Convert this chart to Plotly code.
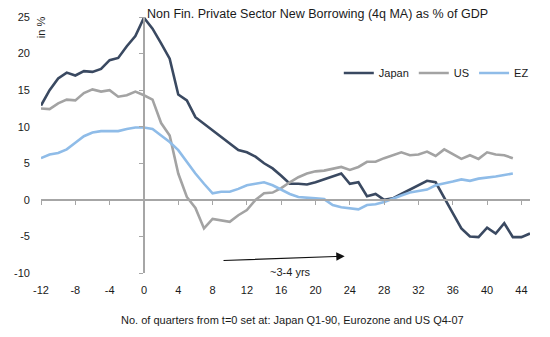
import plotly.graph_objects as go

# Quarters relative to t=0 (Japan Q1-90, Eurozone and US Q4-07)
quarters_japan = list(range(-12, 46))
quarters_us = list(range(-12, 44))
quarters_ez = list(range(-12, 44))

japan = [12.9, 15.0, 16.6, 17.4, 17.0, 17.6, 17.5, 17.9, 19.1, 19.4, 21.0, 22.4,
         24.9, 23.4, 21.4, 19.3, 14.4, 13.6, 11.3, 10.4, 9.4, 8.5, 7.6, 6.8,
         6.5, 5.9, 5.0, 4.3, 3.3, 2.2, 2.2, 2.1, 2.4, 2.8, 3.1, 3.6,
         2.2, 2.4, 0.5, 0.8, 0.0, 0.2, 0.8, 1.4, 2.0, 2.6, 2.4, 0.4,
         -1.8, -3.9, -5.0, -5.1, -3.8, -4.6, -3.2, -5.1, -5.1, -4.6]

us = [12.5, 12.4, 13.2, 13.7, 13.6, 14.6, 15.1, 14.8, 15.0, 14.1, 14.3, 14.8,
      14.3, 13.7, 10.5, 8.8, 3.6, 0.4, -1.1, -3.9, -2.6, -2.8, -3.0, -2.1,
      -1.4, 0.0, 0.9, 1.0, 1.6, 2.4, 3.1, 3.6, 3.9, 4.0, 4.3, 4.5,
      4.1, 4.5, 5.2, 5.2, 5.7, 6.1, 6.5, 6.1, 6.2, 6.6, 6.0, 6.9,
      6.2, 5.6, 6.1, 5.6, 6.5, 6.2, 6.1, 5.7]

ez = [5.7, 6.2, 6.4, 6.9, 7.8, 8.7, 9.2, 9.4, 9.4, 9.4, 9.7, 9.9,
      9.9, 9.7, 8.8, 7.9, 6.8, 5.2, 3.6, 2.2, 0.9, 1.1, 1.1, 1.5,
      2.0, 2.2, 2.4, 2.0, 1.4, 0.8, 0.4, 0.35, 0.2, 0.1, -0.7, -1.0,
      -1.2, -1.3, -0.7, -0.6, -0.3, 0.2, 0.6, 1.0, 1.2, 1.4, 2.0, 2.2,
      2.5, 2.8, 2.6, 2.9, 3.0, 3.2, 3.4, 3.6]

x_ticks = list(range(-12, 45, 4))
x_tick_labels = [str(v) for v in x_ticks]
y_ticks = list(range(-10, 26, 5))
y_tick_labels = [str(v) for v in y_ticks]

X_RANGE = [-12, 45]
Y_RANGE = [-10, 25]

AXIS_GREY = "#a6a6a6"
FONT = "Liberation Sans, Arial, sans-serif"
TEXT = "#1a1a1a"

fig = go.Figure()
fig.add_trace(go.Scatter(x=quarters_japan, y=japan, name="Japan", mode="lines",
                         line=dict(color="#3a4961", width=2.6)))
fig.add_trace(go.Scatter(x=quarters_us, y=us, name="US", mode="lines",
                         line=dict(color="#a3a3a3", width=2.6)))
fig.add_trace(go.Scatter(x=quarters_ez, y=ez, name="EZ", mode="lines",
                         line=dict(color="#8fbce8", width=2.6)))

# axes cross at the origin; labels pushed out to the frame edges
fig.update_layout(
    width=550, height=337,
    margin=dict(l=41, r=20, t=17, b=64),
    paper_bgcolor="white", plot_bgcolor="white",
    font=dict(family=FONT, size=11, color=TEXT),
    showlegend=True,
    legend=dict(orientation="h", x=0.609, y=0.781, xanchor="left", yanchor="middle",
                bgcolor="rgba(0,0,0,0)", font=dict(size=11, color=TEXT),
                itemwidth=30, tracegroupgap=0),
    xaxis=dict(range=X_RANGE, anchor="free",
               position=(0 - Y_RANGE[0]) / (Y_RANGE[1] - Y_RANGE[0]),
               showline=True, linecolor=AXIS_GREY, linewidth=1.5,
               ticks="outside", ticklen=4, tickcolor=AXIS_GREY, tickwidth=1,
               tickvals=x_ticks, ticktext=x_tick_labels, ticklabelstandoff=76,
               showgrid=False, zeroline=False),
    yaxis=dict(range=Y_RANGE, anchor="free",
               position=(0 - X_RANGE[0]) / (X_RANGE[1] - X_RANGE[0]),
               showline=True, linecolor=AXIS_GREY, linewidth=1.5,
               ticks="outside", ticklen=4, tickcolor=AXIS_GREY, tickwidth=1,
               tickvals=y_ticks, ticktext=y_tick_labels, ticklabelstandoff=107,
               showgrid=False, zeroline=False),
)

fig.add_annotation(text="Non Fin. Private Sector New Borrowing (4q MA) as % of GDP",
                   xref="paper", yref="paper", x=(145 - 41) / 489, y=1.0,
                   xanchor="left", yanchor="middle", yshift=3, showarrow=False,
                   font=dict(size=12.5, color=TEXT))
fig.add_annotation(text="in %", xref="paper", yref="paper",
                   x=0.0, y=0.96, textangle=-90, showarrow=False,
                   xanchor="center", yanchor="middle", font=dict(size=11, color=TEXT))

# arrow spanning the recovery period
fig.add_annotation(x=23.4, y=-7.7, ax=9.1, ay=-8.3, xref="x", yref="y",
                   axref="x", ayref="y", text="", showarrow=True,
                   arrowhead=2, arrowsize=1.4, arrowwidth=1.2, arrowcolor="#111111")
fig.add_annotation(text="~3-4 yrs", x=17.1, y=-9.8, xref="x", yref="y",
                   showarrow=False, font=dict(size=11, color=TEXT))

fig.add_annotation(text="No. of quarters from t=0 set at: Japan Q1-90, Eurozone and US Q4-07",
                   xref="paper", yref="paper", x=(292 - 41) / 489, y=0,
                   yshift=-47, yanchor="middle", showarrow=False,
                   font=dict(size=11, color=TEXT))

fig.write_html("out.html")
